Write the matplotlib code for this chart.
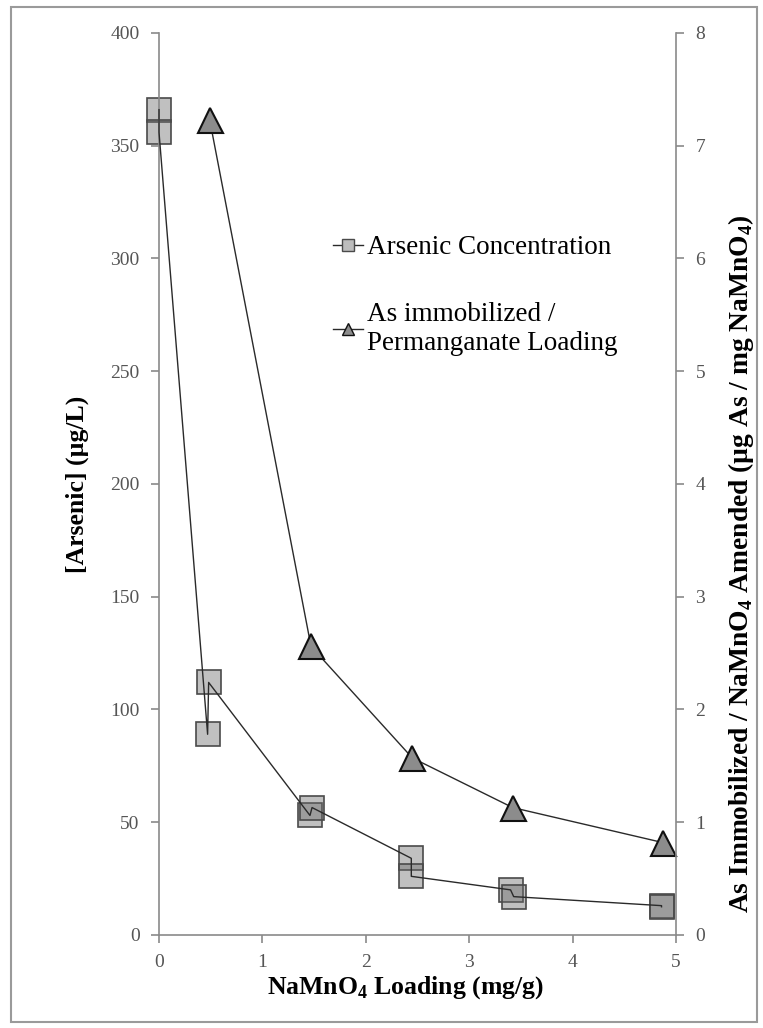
import matplotlib
matplotlib.use("Agg")
import matplotlib.pyplot as plt
from matplotlib.lines import Line2D
from matplotlib.patches import Rectangle

plt.rcParams['font.family'] = ['Liberation Serif', 'DejaVu Serif']
plt.rcParams['mathtext.fontset'] = 'custom'
plt.rcParams['mathtext.rm'] = 'Liberation Serif'
plt.rcParams['mathtext.bf'] = 'Liberation Serif:bold'

# replicate measurements, in the order the line joins them
conc_x = [0, 0, 0.47, 0.48, 1.46, 1.48, 2.44, 2.44, 3.40, 3.43, 4.86, 4.86]
conc_y = [366, 356, 89, 112, 53, 56.5, 34, 26, 20, 17, 13, 12.5]

# As immobilized / permanganate loading
ratio_x = [0.49, 1.47, 2.45, 3.42, 4.87]
ratio_y = [7.23, 2.56, 1.57, 1.13, 0.82]

x_ticks = [0, 1, 2, 3, 4, 5]
left_ticks = [0, 50, 100, 150, 200, 250, 300, 350, 400]
right_ticks = [0, 1, 2, 3, 4, 5, 6, 7, 8]

spine_col = '#8a8a8a'
tick_col = '#555555'

fig = plt.figure(figsize=(7.63, 10.28), dpi=100)
fig.patches.append(Rectangle((0.0144, 0.006), 0.978, 0.987, transform=fig.transFigure,
                             fill=False, edgecolor='#9a9a9a', linewidth=1.5))

ax = fig.add_axes([0.2084, 0.0905, 0.6776, 0.8774])
ax2 = ax.twinx()

# arsenic concentration: semi-transparent squares, line on top
ax.plot(conc_x, conc_y, linestyle='none', marker='s', markersize=17,
        markerfacecolor=(0.42, 0.42, 0.42, 0.42), markeredgecolor='#4a4a4a',
        markeredgewidth=1.2, zorder=2, clip_on=False)
ax.plot(conc_x, conc_y, color='#2a2a2a', linewidth=1.0, zorder=3, clip_on=False)

ax2.plot(ratio_x, ratio_y, color='#2a2a2a', linewidth=1.0, marker='^', markersize=18,
         markerfacecolor='#8c8c8c', markeredgecolor='#111111', markeredgewidth=1.5,
         clip_on=False)

ax.set_xlim(0, 5)
ax.set_ylim(0, 400)
ax2.set_ylim(0, 8)
ax.set_xticks(x_ticks)
ax.set_yticks(left_ticks)
ax2.set_yticks(right_ticks)

for a in (ax, ax2):
    for s in a.spines.values():
        s.set_color(spine_col)
        s.set_linewidth(1.2)
    a.spines['top'].set_visible(False)
    a.tick_params(colors=spine_col, labelcolor=tick_col, labelsize=14,
                  length=6, width=1.2, direction='out', pad=8)
ax.spines['right'].set_visible(False)
ax2.spines['left'].set_visible(False)
ax2.spines['bottom'].set_visible(False)

ax.set_xlabel('NaMnO$_\\mathbf{4}$ Loading (mg/g)', fontsize=18.5, fontweight='bold')
ax.xaxis.set_label_coords(0.476, -0.044)
ax.set_ylabel('[Arsenic] (µg/L)', fontsize=18.5, fontweight='bold', labelpad=15)
ax2.set_ylabel('As Immobilized / NaMnO$_\\mathbf{4}$ Amended (µg As / mg NaMnO$_\\mathbf{4}$)',
               fontsize=19.8, fontweight='bold')
ax2.yaxis.set_label_coords(1.096, 0.412)

handles = [
    Line2D([], [], color='#2a2a2a', linewidth=1.0, marker='s', markersize=9,
           markerfacecolor='#bdbdbd', markeredgecolor='#4a4a4a'),
    Line2D([], [], color='#2a2a2a', linewidth=1.0, marker='^', markersize=9,
           markerfacecolor='#8c8c8c', markeredgecolor='#111111'),
]
labels = ['Arsenic Concentration', 'As immobilized /\nPermanganate Loading']
ax2.legend(handles, labels, loc='upper left', bbox_to_anchor=(0.337, 0.776),
           frameon=False, fontsize=19.5, handlelength=1.1, handletextpad=0.15,
           labelspacing=1.55, borderaxespad=0, borderpad=0)

fig.savefig('out.png', dpi=100)
